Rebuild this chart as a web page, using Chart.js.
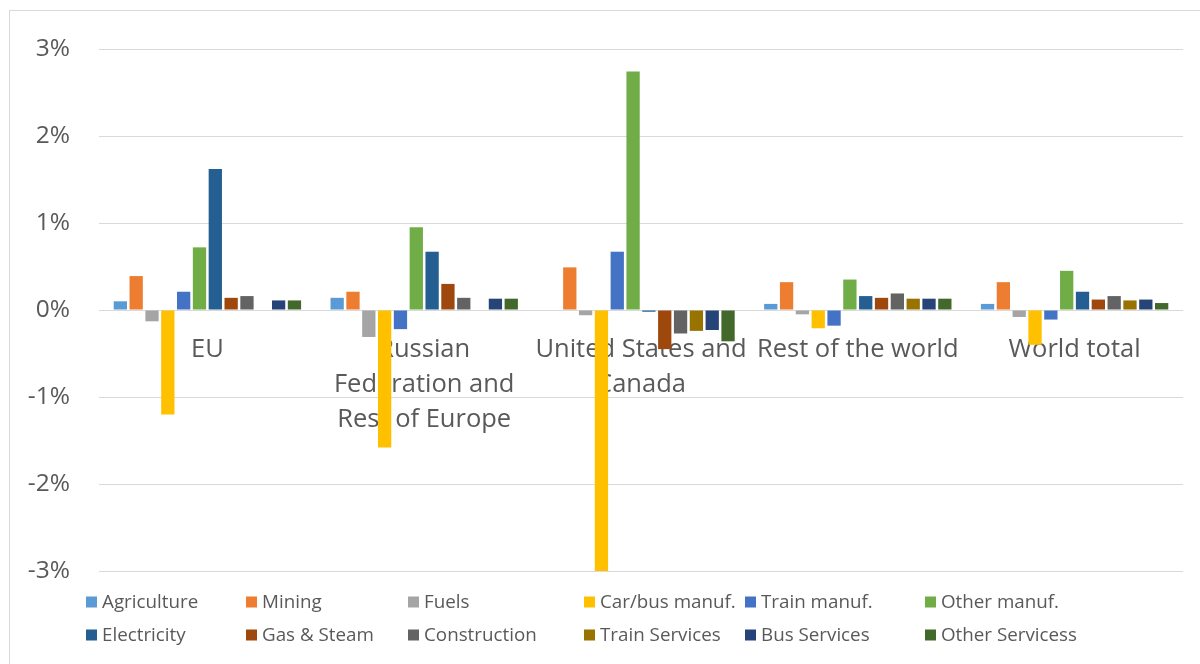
<!DOCTYPE html>
<html>
<head>
<meta charset="utf-8">
<title>Output change by sector and region</title>
<script src="https://cdn.jsdelivr.net/npm/chart.js@4/dist/chart.umd.min.js"></script>
<style>
  html, body { margin: 0; padding: 0; background: #fff; overflow: hidden; }
  #wrap { position: relative; width: 1200px; height: 664px; }
  #frame {
    position: absolute; left: 9px; top: 10px; width: 1300px; height: 800px;
    border: 1px solid #d9d9d9; box-sizing: border-box; pointer-events: none;
  }
  #chart { position: absolute; left: 0; top: 0; }
</style>
</head>
<body>
<div id="wrap">
  <div id="frame"></div>
  <canvas id="chart" width="1200" height="664"></canvas>
</div>
<script>
  "use strict";

  // Regions (multi-line labels wrap the same way as the axis text)
  var regions = [
    "EU",
    ["Russian", "Federation and", "Rest of Europe"],
    ["United States and", "Canada"],
    "Rest of the world",
    "World total",
  ];

  // Change in output, % (null = no bar)
  var agriculture = [0.10, 0.14, null, 0.07, 0.07];
  var mining = [0.39, 0.21, 0.49, 0.32, 0.32];
  var fuels = [-0.13, -0.31, -0.06, -0.05, -0.08];
  var carBusManuf = [-1.20, -1.58, -3.00, -0.21, -0.40];
  var trainManuf = [0.21, -0.22, 0.67, -0.18, -0.11];
  var otherManuf = [0.72, 0.95, 2.74, 0.35, 0.45];
  var electricity = [1.62, 0.67, -0.02, 0.16, 0.21];
  var gasSteam = [0.14, 0.30, -0.45, 0.14, 0.12];
  var construction = [0.16, 0.14, -0.27, 0.19, 0.16];
  var trainServices = [null, null, -0.24, 0.13, 0.11];
  var busServices = [0.11, 0.13, -0.23, 0.13, 0.12];
  var otherServices = [0.11, 0.13, -0.36, 0.13, 0.08];

  var yTicks = [-3, -2, -1, 0, 1, 2, 3];

  var series = [
    { label: "Agriculture", data: agriculture, color: "#5B9BD5" },
    { label: "Mining", data: mining, color: "#ED7D31" },
    { label: "Fuels", data: fuels, color: "#A5A5A5" },
    { label: "Car/bus manuf.", data: carBusManuf, color: "#FFC000" },
    { label: "Train manuf.", data: trainManuf, color: "#4472C4" },
    { label: "Other manuf.", data: otherManuf, color: "#70AD47" },
    { label: "Electricity", data: electricity, color: "#255E91" },
    { label: "Gas & Steam", data: gasSteam, color: "#9E480E" },
    { label: "Construction", data: construction, color: "#636363" },
    { label: "Train Services", data: trainServices, color: "#997300" },
    { label: "Bus Services", data: busServices, color: "#264478" },
    { label: "Other Servicess", data: otherServices, color: "#43682B" },
  ];

  var textColor = "#595959";
  var fontFamily = '"Open Sans", "Noto Sans", sans-serif';

  // Legend laid out as a 2 x 6 grid under the plot
  var gridLegend = {
    id: "gridLegend",
    afterDraw: function (chart) {
      var ctx = chart.ctx;
      var cols = [86, 246, 408, 584, 745, 925];
      var rows = [602, 635];
      ctx.save();
      ctx.font = "18.8px " + fontFamily;
      ctx.textBaseline = "middle";
      ctx.textAlign = "left";
      chart.data.datasets.forEach(function (ds, i) {
        var x = cols[i % 6];
        var y = rows[Math.floor(i / 6)];
        ctx.fillStyle = ds.backgroundColor;
        ctx.fillRect(x, y - 5.5, 11, 11);
        ctx.fillStyle = textColor;
        ctx.fillText(ds.label, x + 16, y + 1);
      });
      ctx.restore();
    },
  };

  var ctx = document.getElementById("chart").getContext("2d");
  var myChart = new Chart(ctx, {
    type: "bar",
    data: {
      labels: regions,
      datasets: series.map(function (s) {
        return {
          label: s.label,
          data: s.data,
          backgroundColor: s.color,
          borderWidth: 0,
          categoryPercentage: 0.876,
          barPercentage: 0.84,
        };
      }),
    },
    options: {
      responsive: false,
      animation: false,
      layout: { padding: { left: 0, top: 49, right: 17, bottom: 93 } },
      plugins: {
        legend: { display: false },
        tooltip: { enabled: false },
      },
      scales: {
        x: {
          position: { y: 0 },
          z: 1,
          grid: { display: false, drawTicks: false },
          border: { display: false },
          ticks: {
            autoSkip: false,
            maxRotation: 0,
            padding: 22,
            color: textColor,
            font: { family: fontFamily, size: 25.5, lineHeight: 35 / 25.5 },
          },
        },
        y: {
          min: yTicks[0],
          max: yTicks[yTicks.length - 1],
          afterFit: function (scale) {
            scale.width = 99;
          },
          afterBuildTicks: function (scale) {
            scale.ticks = yTicks.map(function (v) {
              return { value: v };
            });
          },
          grid: { color: "#d9d9d9", lineWidth: 1, drawTicks: false },
          border: { display: false },
          ticks: {
            padding: 29,
            color: textColor,
            font: { family: fontFamily, size: 24.5 },
            callback: function (v) {
              return v + "%";
            },
          },
        },
      },
    },
    plugins: [gridLegend],
  });
</script>
</body>
</html>
